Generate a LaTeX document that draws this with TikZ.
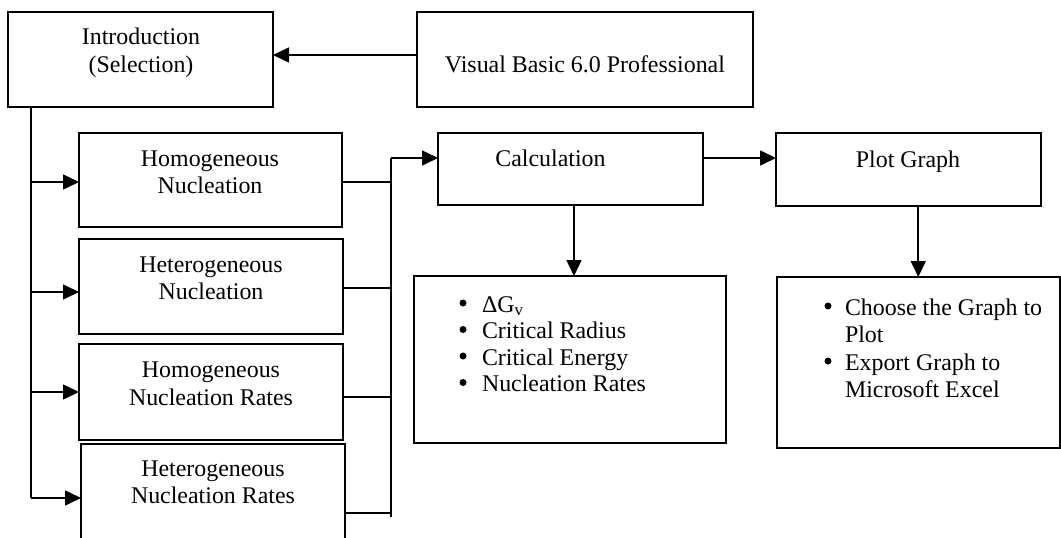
\documentclass[tikz,border=0pt]{standalone}
\usepackage{fontspec}
\setmainfont{Liberation Serif}
\usetikzlibrary{arrows.meta}
\tikzset{
  box/.style={draw, line width=2pt, anchor=north west, inner sep=0pt, outer sep=0pt},
  conn/.style={line width=1.6pt},
  arr/.style={conn, -{Triangle[length=16pt,width=15pt]}},
  txt/.style={anchor=base, inner sep=0pt, outer sep=0pt, font=\fontsize{23.9}{27}\selectfont},
  ltxt/.style={txt, anchor=base west},
  bul/.style={circle, fill, inner sep=0pt, minimum size=7pt},
}
\begin{document}
\begin{tikzpicture}[x=1pt,y=-1pt]
\useasboundingbox (0,0) rectangle (1061,538);
% boxes
\node[box, minimum width=265pt, minimum height=95pt] (intro) at (8,12) {};
\node[box, minimum width=336pt, minimum height=95pt] (vb) at (417,12) {};
\node[box, minimum width=263pt, minimum height=94pt] (h1) at (79,133) {};
\node[box, minimum width=264pt, minimum height=95pt] (h2) at (79,239) {};
\node[box, minimum width=264pt, minimum height=96pt] (h3) at (79,344) {};
\node[box, minimum width=264pt, minimum height=110pt] (h4) at (81,444) {};
\node[box, minimum width=265pt, minimum height=72pt] (calc) at (438,133) {};
\node[box, minimum width=265pt, minimum height=73pt] (plot) at (776,133) {};
\node[box, minimum width=312pt, minimum height=167pt] (calcl) at (414,276) {};
\node[box, minimum width=282.5pt, minimum height=171pt] (plotl) at (777,277) {};
% texts
\node[txt] (t1a) at (141,45) {Introduction};
\node[txt] (t1b) at (141,72) {(Selection)};
\node[txt] (t2) at (585,72) {Visual Basic 6.0 Professional};
\node[txt] (t3a) at (210,166) {Homogeneous};
\node[txt] (t3b) at (210,193) {Nucleation};
\node[txt] (t4a) at (211,272) {Heterogeneous};
\node[txt] (t4b) at (211,299) {Nucleation};
\node[txt] (t5a) at (211,377) {Homogeneous};
\node[txt] (t5b) at (211,405) {Nucleation Rates};
\node[txt] (t6a) at (213,476) {Heterogeneous};
\node[txt] (t6b) at (213,503) {Nucleation Rates};
\node[txt] (t7) at (550.5,166) {Calculation};
\node[txt] (t8) at (908,167) {Plot Graph};
% calc list
\node[bul] (b1) at (463,303) {};
\node[bul] (b2) at (463,329.5) {};
\node[bul] (b3) at (463,356) {};
\node[bul] (b4) at (463,382.5) {};
\node[ltxt] (l1) at (482,312) {ΔG\textsubscript{v}};
\node[ltxt] (l2) at (482,338.5) {Critical Radius};
\node[ltxt] (l3) at (482,365) {Critical Energy};
\node[ltxt] (l4) at (482,391.5) {Nucleation Rates};
% plot list
\node[bul] (p1) at (828,306) {};
\node[bul] (p3) at (828,361) {};
\node[ltxt] (m1) at (845,315) {Choose the Graph to};
\node[ltxt] (m2) at (845,342) {Plot};
\node[ltxt] (m3) at (845,370) {Export Graph to};
\node[ltxt] (m4) at (845,397) {Microsoft Excel};
% connectors
\draw[arr] ([yshift=4.5pt]vb.west) -- ([yshift=4.5pt]intro.east);
\coordinate (lbus) at ([xshift=23pt]intro.south west);
\coordinate (lbusend) at (31,498);
\draw[conn] (lbus) -- (lbusend);
\draw[arr] (lbus |- 0,182) -- (h1.west |- 0,182);
\draw[arr] (lbus |- 0,292) -- (h2.west |- 0,292);
\draw[arr] (lbus |- 0,392) -- (h3.west |- 0,392);
\draw[arr] (lbusend) -- (h4.west |- lbusend);
\coordinate (rbus) at (391,158);
\coordinate (rbusend) at (391,517);
\draw[conn] (rbus) -- (rbusend);
\draw[conn] (h1.east |- 0,182) -- (rbus |- 0,182);
\draw[conn] (h2.east |- 0,288) -- (rbus |- 0,288);
\draw[conn] (h3.east |- 0,397) -- (rbus |- 0,397);
\draw[conn] (h4.east |- 0,513) -- (rbus |- 0,513);
\draw[arr] (rbus) -- (calc.west |- rbus);
\draw[arr] (calc.east |- 0,158) -- (plot.west |- 0,158);
\draw[arr] ([xshift=3.5pt]calc.south) -- ([xshift=3.5pt]calc.south |- calcl.north);
\draw[arr] (plotl.north |- plot.south) -- (plotl.north);
\end{tikzpicture}
\end{document}
